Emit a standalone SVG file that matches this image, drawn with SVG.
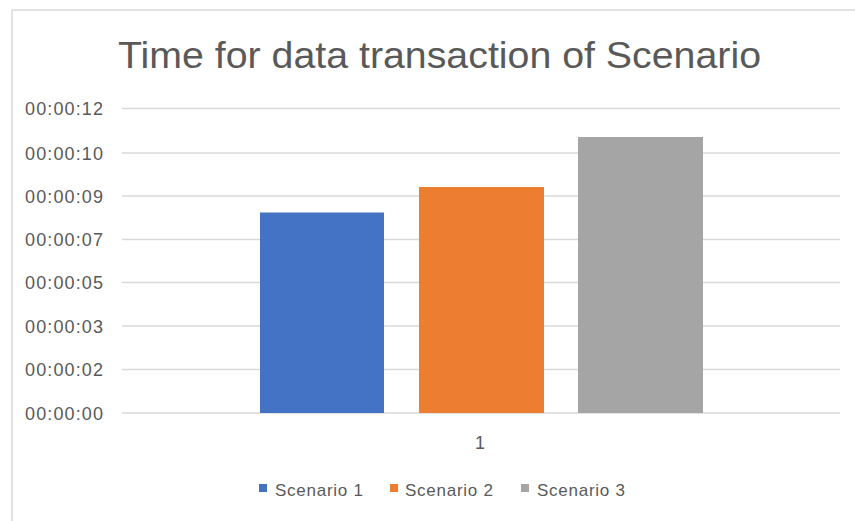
<svg xmlns="http://www.w3.org/2000/svg" width="855" height="521" viewBox="0 0 855 521">
  <style>
    .lbl { font-family: "Liberation Sans", Arial, sans-serif; fill: #595959; }
    .ax { font-size: 18px; }
    .grid { stroke: #d9d9d9; stroke-width: 1.5; }
    .frame { stroke: #d9d9d9; stroke-width: 1.5; fill: none; }
  </style>
  <rect x="0" y="0" width="855" height="521" fill="#ffffff"/>
  <path class="frame" d="M12 521 V10 H855"/>
  <text id="title" class="lbl" x="118" y="68" font-size="37" textLength="643" lengthAdjust="spacingAndGlyphs">Time for data transaction of Scenario</text>
  <g id="gridlines">
    <line class="grid" x1="122" y1="108.5" x2="840" y2="108.5"/>
    <line class="grid" x1="122" y1="153" x2="840" y2="153"/>
    <line class="grid" x1="122" y1="196" x2="840" y2="196"/>
    <line class="grid" x1="122" y1="239.5" x2="840" y2="239.5"/>
    <line class="grid" x1="122" y1="282.5" x2="840" y2="282.5"/>
    <line class="grid" x1="122" y1="326" x2="840" y2="326"/>
    <line class="grid" x1="122" y1="369.5" x2="840" y2="369.5"/>
    <line class="grid" x1="122" y1="413" x2="840" y2="413"/>
  </g>
  <g id="y-axis" class="lbl ax" text-anchor="end">
    <text x="103" y="115" textLength="78">00:00:12</text>
    <text x="103" y="159.5" textLength="78">00:00:10</text>
    <text x="103" y="202.5" textLength="78">00:00:09</text>
    <text x="103" y="246" textLength="78">00:00:07</text>
    <text x="103" y="289" textLength="78">00:00:05</text>
    <text x="103" y="332.5" textLength="78">00:00:03</text>
    <text x="103" y="376" textLength="78">00:00:02</text>
    <text x="103" y="419.5" textLength="78">00:00:00</text>
  </g>
  <g id="bar-scenario-1"><rect x="260" y="212.5" width="124" height="200.5" fill="#4472C4"/></g>
  <g id="bar-scenario-2"><rect x="419" y="187" width="125" height="226" fill="#ED7D31"/></g>
  <g id="bar-scenario-3"><rect x="578" y="137" width="125" height="276" fill="#A5A5A5"/></g>
  <text id="category" class="lbl ax" x="480" y="449" text-anchor="middle">1</text>
  <g id="legend" class="lbl" font-size="17">
    <rect x="259" y="484" width="8" height="8" fill="#4472C4"/>
    <text x="275" y="496" textLength="88">Scenario 1</text>
    <rect x="390" y="484" width="8" height="8" fill="#ED7D31"/>
    <text x="405" y="496" textLength="88">Scenario 2</text>
    <rect x="521" y="484" width="8" height="8" fill="#A5A5A5"/>
    <text x="537" y="496" textLength="88">Scenario 3</text>
  </g>
</svg>
